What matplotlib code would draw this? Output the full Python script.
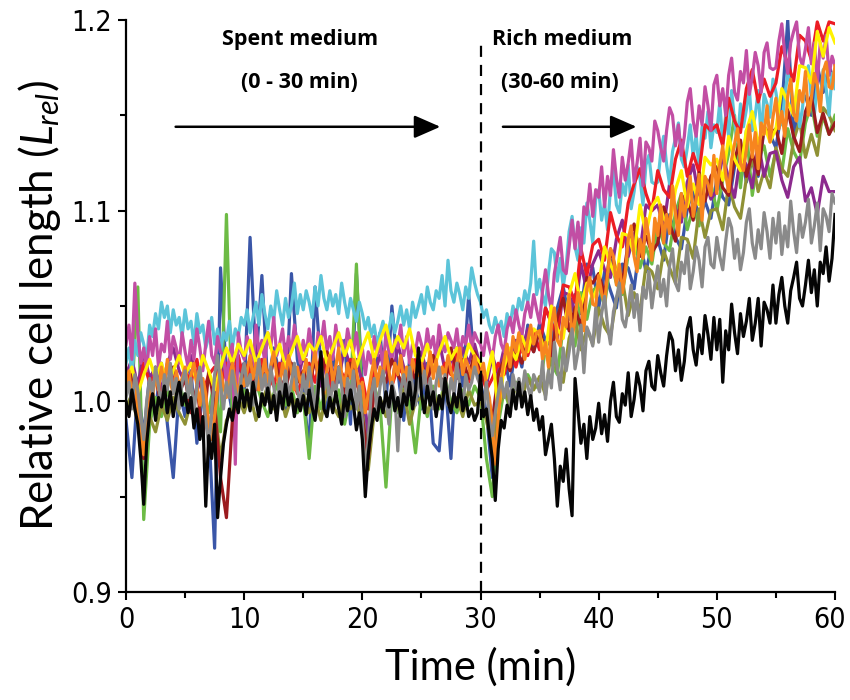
import numpy as np
import matplotlib
matplotlib.use("Agg")
import matplotlib.pyplot as plt
import matplotlib.transforms as mtransforms
from matplotlib import font_manager as fm

# Relative cell length traces, stored as deviation from 1.0 in thousandths
# (L_rel = 1 + d / 1000).  Two acquisition intervals are used.
DT_FINE = 0.25    # min
DT_COARSE = 0.5   # min

d_black = [
    0, -8, 6, -4, -12, -30, -54, -22, -6, 4, -10, 2, -3, 8, -6, 5, -8, 3, 10, -2,
    4, -6, 2, -14, -4, -20, -8, -55, -18, -30, -12, -61, -40, -22, -12, -4, -10, 2, -6, 8,
    -3, 6, -5, 10, 0, -8, 4, -2, 7, -6, 3, -10, 5, -4, 9, -2, 4, -8, 1, -5,
    3, -7, 6, -3, -10, 4, 26, -4, -8, 2, -6, 5, -4, -12, 3, -5, 6, -2, -15, -6,
    -20, -50, -28, -14, -4, -10, 2, -6, 5, -3, 8, -5, 2, -8, 4, -2, 10, -4, 6, 28,
    4, -6, 8, -2, 5, -8, 3, -4, 12, 0, -6, 4, -3, 9, -5, 2, -8, -4, -10, -6,
    14, -8, -4, -18, -30, -52, -25, -10, -14, -2, -8, 6, -4, 10, -3, 5, -7, 3, -10, -4,
    -15, -8, -28, -20, -12, -30, -55, -34, -42, -25, -46, -60, 12, -5, -22, -12, -30, -8, -20, -14,
    -1, -17, -7, -21, 0, 10, -8, -11, 4, -2, 15, -8, 1, 15, 8, -5, 16, 21, 8, 6,
    24, 15, 8, 24, 36, 32, 16, 27, 11, 21, 38, 44, 27, 19, 35, 25, 45, 35, 22, 44,
    27, 43, 10, 37, 27, 51, 36, 25, 46, 34, 42, 54, 32, 41, 54, 29, 52, 48, 41, 61,
    41, 56, 65, 50, 41, 58, 65, 73, 54, 50, 61, 74, 57, 69, 50, 73, 67, 81, 63, 75,
    98,
]

d_gray = [
    2, 10, -4, 14, 6, -8, -20, 0, 12, 4, 18, 8, -2, 14, 6, 20, 4, 12, -4, 10,
    16, 2, 12, -6, 8, 18, 4, -10, -24, -6, 14, 24, 8, -4, 10, 2, 16, 6, -2, 12,
    20, 8, 14, -2, 10, 22, 6, 14, 0, 18, 8, -4, 12, 4, 16, 2, 10, 20, 6, -2,
    14, 4, 18, 8, -6, 12, 20, 6, 14, -2, 10, 4, 18, 8, -8, 12, 2, 16, -4, 8,
    -10, -40, -20, 4, 12, -6, 8, 16, 2, -12, 10, 4, -26, 6, 14, 2, 18, 8, -2, 12,
    6, 16, 2, 12, -4, 10, 18, 6, 14, -2, 12, 4, 20, 8, -4, 14, 6, 10, 18, 12,
    8, -4, 10, -10, -18, -6, 4, 12, 2, 10, -2, 14, 6, 12, 4, 16, 8, 2, 14, 10,
    5, 21, 1, 16, 7, 31, 17, 6, 28, 16, 26, 38, 17, 26, 40, 15, 39, 35, 29, 49,
    31, 46, 55, 40, 30, 47, 54, 62, 43, 39, 49, 61, 44, 56, 37, 60, 54, 68, 49, 61,
    71, 55, 64, 50, 71, 80, 62, 58, 73, 67, 82, 59, 68, 81, 74, 60, 81, 86, 72, 70,
    86, 76, 69, 84, 96, 91, 75, 85, 69, 78, 94, 101, 83, 75, 90, 80, 99, 89, 75, 96,
    83, 99, 77, 92, 81, 105, 89, 78, 98, 86, 94, 106, 83, 92, 104, 79, 101, 97, 89, 109,
    104,
]

d_cyan = [
    20, 28, 14, 32, 24, 36, 30, 22, 40, 34, 46, 38, 52, 44, 50, 36, 48, 40, 44, 34,
    48, 38, 42, 30, 46, 36, 40, 28, 34, 44, 30, 38, 26, 36, 32, 42, 28, 38, 34, 44,
    40, 48, 36, 44, 52, 40, 56, 46, 38, 50, 42, 58, 48, 40, 54, 44, 50, 62, 46, 56,
    48, 58, 52, 44, 60, 50, 66, 54, 48, 58, 50, 56, 46, 62, 52, 44, 54, 48, 42, 52,
    46, 38, 44, 34, 40, 30, 36, 42, 32, 38, 46, 36, 42, 50, 40, 48, 38, 52, 44, 50,
    56, 46, 60, 52, 48, 58, 54, 66, 50, 74, 58, 52, 62, 56, 48, 60, 54, 70, 62, 56,
    52, 44, 48, 40, 36, 44, 38, 42, 34, 46, 40, 50, 44, 54, 48, 58, 52, 62, 84, 56,
    64, 56, 50, 67, 80, 78, 63, 75, 60, 71, 89, 97, 81, 74, 91, 83, 104, 95, 83, 106,
    111, 95, 104, 90, 112, 121, 103, 99, 114, 108, 124, 101, 110, 123, 117, 103, 124, 129, 115, 114,
    115, 130, 139, 124, 114, 131, 138, 146, 127, 123, 133, 145, 128, 140, 121, 144, 138, 152, 133, 145,
    141, 157, 135, 150, 139, 163, 147, 136, 156, 144, 153, 164, 142, 150, 163, 138, 161, 156, 149, 169,
    162, 152, 145, 160, 172, 167, 150, 161, 144, 154, 170, 176, 159, 150, 166, 155, 174, 164, 150, 172,
    164,
]

d_magenta = [
    30, 40, 22, 62, 36, 20, 28, 16, 34, 24, 38, 18, 30, 26, 42, 22, 34, 28, 20, 36,
    26, 18, 32, 22, 38, 28, 16, 30, 42, 24, 20, 34, 26, 24, 10, 24, 30, -33, 36, 26,
    22, 34, 28, 18, 40, 26, 32, 20, 36, 28, 44, 24, 30, 38, 22, 34, 26, 40, 30, 20,
    32, 24, 38, 28, 20, 36, 30, 42, 26, 34, 22, 40, 28, 32, 24, 38, 30, 26, 36, 22,
    28, 14, 26, 20, 34, 24, 30, 18, 36, 26, 22, 32, 28, 40, 24, 34, 20, 30, 26, 36,
    30, 24, 38, 28, 34, 22, 40, 30, 26, 36, 32, 28, 38, 24, 34, 30, 40, 28, 36, 32,
    30, 24, 36, 28, 22, 34, 40, 30, 26, 38, 44, 36, 48, 40, 34, 46, 52, 44, 56, 48,
    41, 58, 69, 56, 48, 67, 76, 86, 69, 67, 81, 95, 80, 94, 77, 102, 98, 114, 97, 111,
    107, 123, 102, 118, 108, 132, 117, 107, 128, 116, 125, 137, 115, 125, 138, 113, 136, 133, 126, 147,
    142, 133, 126, 142, 154, 150, 134, 145, 129, 139, 157, 164, 147, 139, 155, 145, 165, 155, 142, 166,
    171, 155, 164, 150, 171, 180, 162, 158, 173, 167, 184, 161, 170, 183, 176, 162, 183, 188, 175, 174,
    175, 189, 198, 182, 172, 188, 194, 199, 181, 176, 185, 196, 177, 188, 167, 188, 180, 192, 171, 181,
    176,
]

d_orange = [
    8, 16, 2, 12, -4, -18, -28, -6, 10, 2, 14, 6, 18, 8, 22, 10, 4, 16, 8, 12,
    18, 6, 14, 20, 8, -2, 12, 4, -12, -20, -8, 6, 16, 8, 2, 12, 20, 10, 4, 14,
    8, 16, 24, 12, 20, 6, 14, 22, 10, 18, 26, 14, 8, 20, 12, 24, 16, 6, 18, 10,
    14, 22, 8, 18, 26, 12, 20, 4, 16, 24, 10, 18, 28, 14, 8, 20, 12, 22, 16, 6,
    10, -6, 4, 14, 22, 8, 18, 12, 26, 16, 6, 20, 14, 24, 10, 18, 8, 22, 16, 12,
    20, 10, 16, 26, 12, 22, 8, 18, 14, 24, 16, 10, 20, 28, 14, 22, 18, 12, 24, 16,
    14, 20, 8, 2, -12, -33, -10, 12, 22, 30, 18, 34, 26, 36, 28, 22, 32, 40, 30, 36,
    37, 22, 31, 18, 40, 49, 32, 29, 44, 39, 56, 33, 43, 57, 51, 37, 59, 65, 51, 50,
    66, 57, 51, 67, 80, 76, 61, 72, 57, 67, 85, 92, 76, 68, 85, 75, 96, 86, 74, 96,
    87, 103, 83, 98, 88, 113, 98, 87, 109, 97, 106, 118, 97, 106, 119, 95, 118, 114, 108, 129,
    109, 124, 134, 119, 110, 127, 135, 143, 125, 121, 132, 145, 128, 141, 122, 146, 140, 155, 136, 149,
    159, 143, 152, 139, 160, 169, 151, 147, 163, 157, 173, 150, 159, 172, 166, 152, 173, 178, 165, 164,
    176,
]

d_purple = [
    14, 22, 8, 26, 12, 18, 6, 20, 28, 16,
    10, 24, 14, 4, -20, 8, 18, 12, 26, 16,
    20, 12, 28, 16, 8, 22, 14, 30, 18, 10,
    24, 14, 20, 8, 26, 16, 12, 28, 18, 22,
    10, -18, 14, 24, 16, 8, 30, 18, 12, 20,
    26, 14, 22, 32, 16, 24, 12, 28, 20, 30,
    18, 8, 24, 14, 28, 20, 32, 26, 38, 30,
    29, 49, 41, 33, 57, 56, 46, 72, 58, 72,
    79, 69, 65, 85, 95, 76, 88, 78, 103, 100,
    103, 91, 114, 101, 94, 115, 124, 106, 116, 106,
    111, 129, 117, 107, 129, 124, 112, 136, 118, 130,
    131, 116, 107, 123, 128, 105, 112, 98, 118, 110,
    110,
]

d_yellow = [
    10, 18, 4, 14, 22, 12, 20, 8, 16, 24,
    14, 20, 10, 24, 16, 6, 18, 28, 20, 30,
    24, 32, 20, 28, 36, 22, 30, 18, 26, 34,
    22, 30, 26, 34, 20, 28, 36, 24, 32, 18,
    28, 36, 22, 32, 40, 26, 34, 28, 38, 24,
    20, 30, 16, 26, 34, 22, 28, 18, 30, 24,
    20, 12, 26, -6, 18, 28, 22, 34, 26, 38,
    35, 25, 50, 38, 33, 56, 67, 50, 62, 54,
    61, 81, 72, 64, 88, 87, 77, 103, 88, 102,
    107, 96, 92, 111, 121, 102, 114, 103, 128, 124,
    127, 116, 139, 127, 121, 142, 152, 135, 145, 136,
    143, 164, 157, 150, 176, 175, 167, 194, 181, 196,
    188,
]

d_darkred = [
    6, 14, -4, -30, 2, 12, -2, 10, 18, 4,
    12, -6, 8, -18, 16, -2, -40, -61, -10, 6,
    14, 22, 8, 18, 4, 24, 12, 6, 20, 10,
    16, 8, 22, 12, 26, 10, 18, 4, 20, 14,
    -8, -30, 6, 16, 10, 22, 14, 8, 18, 12,
    20, 10, 24, 14, 8, 28, 16, 22, 12, 26,
    18, 8, -10, 14, 22, 16, 28, 20, 32, 26,
    37, 27, 24, 44, 54, 37, 49, 39, 65, 62,
    67, 56, 80, 68, 62, 83, 93, 76, 87, 78,
    83, 102, 93, 84, 108, 105, 95, 120, 105, 118,
    123, 112, 108, 127, 137, 118, 130, 119, 144, 140,
    143, 130, 153, 139, 131, 152, 160, 141, 151, 140,
    146,
]

d_red = [
    8, 16, 4, 20, 10, 14, 2, 18, 12, 6,
    16, 10, 22, 4, 14, 18, 8, 20, 12, 24,
    10, 18, 6, 22, 14, 8, 20, 12, 16, 4,
    14, 20, 10, 24, 16, 6, 18, 12, 22, 8,
    12, -4, 16, 10, 20, 8, 18, 14, 6, 22,
    16, 10, 24, 12, 20, 14, 26, 18, 10, 22,
    16, 6, 12, 20, 14, 26, 18, 30, 24, 36,
    27, 49, 41, 35, 61, 60, 52, 80, 66, 82,
    85, 74, 99, 87, 81, 104, 114, 122, 109, 100,
    121, 111, 107, 127, 137, 118, 130, 120, 145, 142,
    145, 134, 159, 147, 141, 164, 174, 157, 169, 160,
    167, 186, 177, 168, 192, 189, 179, 199, 189, 199,
    198,
]

d_olive = [
    -4, 4, -12, -20, -8, -16, -2, -10, 2, -6,
    -12, 0, -8, 4, -14, -2, -30, -10, -4, 2,
    -6, 4, -10, 0, 8, -4, 6, -8, 2, -2,
    4, -6, 2, -10, 6, -2, -8, 4, -4, 0,
    -14, -36, -6, 2, -8, 4, -4, 6, -12, 0,
    2, -6, 4, -2, 8, -4, 2, -8, 6, -2,
    0, -10, -24, -4, 6, -2, 8, 2, 12, 6,
    13, 3, 27, 16, 10, 33, 43, 27, 38, 30,
    49, 39, 34, 54, 64, 45, 57, 47, 71, 68,
    59, 79, 70, 62, 86, 85, 75, 101, 86, 100,
    101, 90, 114, 102, 96, 117, 127, 110, 121, 112,
    133, 122, 118, 137, 147, 128, 140, 129, 154, 150,
    142,
]

d_blue = [
    -10, -40, 8, -18, 14, -4, 20, -12, -40, 6,
    -8, 16, -22, 4, -14, -77, 70, 12, -6, 24,
    4, 86, 20, 66, 8, 28, 14, -4, 67, 22,
    6, -26, 60, 18, -8, 24, 10, 32, -12, 67,
    8, -20, 14, 36, -2, 50, 16, -10, 22, 6,
    -4, 20, -22, -26, 12, -30, 28, 8, 56, 18,
    10, -6, -40, 14, 24, 8, 30, 18, 40, 26,
    41, 32, 29, 49, 60, 43, 56, 46, 72, 70,
    49, 68, 58, 49, 72, 70, 59, 84, 68, 82,
    85, 74, 98, 86, 80, 101, 111, 94, 105, 96,
    117, 107, 103, 123, 133, 115, 127, 118, 143, 140,
    133, 153, 200, 137, 161, 160, 150, 176, 162, 176,
    166,
]

d_green = [
    -6, 4, 60, -62, -12, 2, -8, 6, -4, 10,
    -2, 8, -10, 4, -6, 12, -16, 98, -8, 2,
    6, -4, 10, 0, -8, 4, 12, -2, 8, -6,
    2, -30, 8, -4, 10, -2, 6, -12, 4, 72,
    -6, -20, 8, -2, -45, 4, -6, 10, -2, -27,
    4, -8, 8, -4, 12, 0, -6, 6, -2, 8,
    2, -30, -50, -12, 6, -4, 10, 2, 14, 8,
    7, 28, 20, 14, 39, 38, 29, 57, 43, 58,
    61, 50, 74, 62, 56, 77, 87, 70, 81, 72,
    93, 83, 79, 99, 109, 90, 102, 92, 117, 114,
    100, 116, 130, 150, 112, 142, 108, 128, 134, 118,
    131, 120, 143, 131, 125, 146, 156, 139, 149, 140,
    150,
]

# drawing order: first entry lies at the bottom
traces = [
    (d_blue, DT_COARSE, "#3a56a8"),
    (d_green, DT_COARSE, "#6dbb45"),
    (d_olive, DT_COARSE, "#8f9135"),
    (d_purple, DT_COARSE, "#8c2a8e"),
    (d_cyan, DT_FINE, "#5cc4d9"),
    (d_red, DT_COARSE, "#ec1c24"),
    (d_magenta, DT_FINE, "#c24ea4"),
    (d_darkred, DT_COARSE, "#9b1b1f"),
    (d_yellow, DT_COARSE, "#fff200"),
    (d_orange, DT_FINE, "#f7851f"),
    (d_gray, DT_FINE, "#8a8a8a"),
    (d_black, DT_FINE, "#050505"),
]

plt.rcParams["font.family"] = ["Lato", "DejaVu Sans"]
plt.rcParams["mathtext.fontset"] = "custom"
plt.rcParams["mathtext.rm"] = "Lato"
plt.rcParams["mathtext.it"] = "Lato:italic"

# narrow face for the tick numbers, when one is available
tick_font = dict(family=["Lato", "DejaVu Sans"], size=19)
for f in fm.fontManager.ttflist:
    if f.name == "Liberation Sans Narrow":
        tick_font = dict(family=["Liberation Sans Narrow"], size=21)
        break
    if f.name == "DejaVu Sans" and str(f.stretch) == "condensed":
        tick_font = dict(family=["DejaVu Sans"], stretch="condensed", size=20.5)

fig = plt.figure(figsize=(8.5, 7), dpi=100)
ax = fig.add_axes([126 / 850, 1 - 592 / 700, (835 - 126) / 850, (592 - 20) / 700])

for dev, dt, color in traces:
    dev = np.asarray(dev, dtype=float)
    t = np.arange(dev.size) * dt
    ax.plot(t, 1.0 + dev / 1000.0, color=color, lw=2.3)

# medium switch at 30 min
ax.plot([30, 30], [0.9, 1.187], color="black", lw=1.6, ls=(0, (5, 3.6)), zorder=10)

ax.set_xlim(0, 60)
ax.set_ylim(0.9, 1.2)
ax.set_xticks([0, 10, 20, 30, 40, 50, 60])
ax.set_xticks([5, 15, 25, 35, 45, 55], minor=True)
ax.set_yticks([0.9, 1.0, 1.1, 1.2])
ax.set_yticks([0.95, 1.05, 1.15], minor=True)
ax.set_yticklabels(["0.9", "1.0", "1.1", "1.2"])

for s in ("top", "right"):
    ax.spines[s].set_visible(False)
for s in ("left", "bottom"):
    ax.spines[s].set_linewidth(1.6)
    ax.spines[s].set_zorder(11)

ax.tick_params(which="major", direction="out", length=6, width=1.5, pad=4)
ax.tick_params(which="minor", direction="out", length=4, width=1.5)
for lab in ax.get_xticklabels() + ax.get_yticklabels():
    lab.set_fontproperties(fm.FontProperties(**tick_font))
# keep the last time label inside the canvas
last = ax.get_xticklabels()[-1]
last.set_transform(last.get_transform()
                   + mtransforms.ScaledTranslation(-4 / 72, 0, fig.dpi_scale_trans))

ax.set_xlabel("Time (min)", fontsize=30, labelpad=10)
ax.set_ylabel(r"Relative cell length ($L_{rel}$)", fontsize=31.5, labelpad=6)

txt = dict(ha="center", va="center", fontsize=15.5, fontweight="bold",
           family=["Open Sans", "DejaVu Sans"])
ax.text(14.7, 1.190, "Spent medium", **txt)
ax.text(14.7, 1.167, "(0 - 30 min)", **txt)
ax.text(36.9, 1.190, "Rich medium", **txt)
ax.text(36.7, 1.167, "(30-60 min)", **txt)

arrow = dict(arrowstyle="-|>,head_length=0.8,head_width=0.35", color="black",
             lw=1.8, mutation_scale=20, shrinkA=0, shrinkB=0)
ax.annotate("", xy=(26.6, 1.144), xytext=(4.2, 1.144), arrowprops=arrow)
ax.annotate("", xy=(43.2, 1.144), xytext=(31.9, 1.144), arrowprops=arrow)

fig.savefig("out.png", dpi=100)
